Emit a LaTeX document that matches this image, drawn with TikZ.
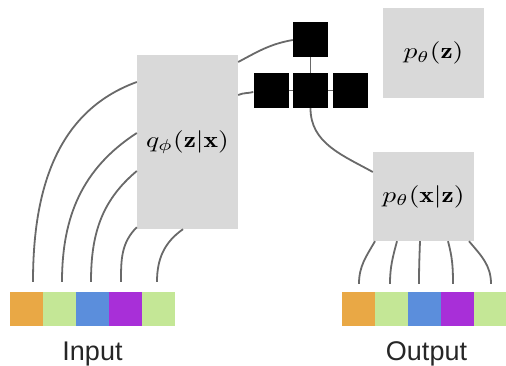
\documentclass[tikz,border=0pt]{standalone}
\usepackage{amsmath}
\usepackage{graphicx}
\usepackage{fontspec}
\setsansfont{Liberation Sans}
\definecolor{cOrange}{HTML}{E9A845}
\definecolor{cGreen}{HTML}{C4E796}
\definecolor{cBlue}{HTML}{5B8EDC}
\definecolor{cPurple}{HTML}{A82FD8}
\definecolor{boxgray}{HTML}{D9D9D9}
\definecolor{wire}{HTML}{696969}
\newcommand{\distlabel}[1]{\scalebox{2.75}[2.25]{$#1$}}
\begin{document}
\begin{tikzpicture}[x=1pt,y=1pt,
  cell/.style={minimum width=33pt,minimum height=34pt,inner sep=0pt,draw=none},
  dist/.style={fill=boxgray,inner sep=0pt},
  latent/.style={fill=black,minimum size=35pt,inner sep=0pt},
  wireline/.style={draw=wire,line width=1.8pt},
  caption/.style={font=\sffamily\fontsize{27}{30}\selectfont,text=black!85,anchor=base,inner sep=0pt}]
\useasboundingbox (0,0) rectangle (506,365);

% input vector
\foreach \i/\c in {1/cOrange,2/cGreen,3/cBlue,4/cPurple,5/cGreen}
  \node[cell,fill=\c] (in\i) at ({10+33*(\i-1)+16.5},56) {};
% output vector
\foreach \i/\c in {1/cOrange,2/cGreen,3/cBlue,4/cPurple,5/cGreen}
  \node[cell,fill=\c] (out\i) at ({342+33*(\i-1)+16.5},56) {};

\node[caption] (inlab) at (92.5,5) {Input};
\node[caption] (outlab) at (426.5,5) {Output};

% encoder / decoder / prior boxes
\node[dist,minimum width=101pt,minimum height=174pt] (q) at (187.5,223) {\distlabel{q_\phi(\mathbf{z}|\mathbf{x})}};
\node[dist,minimum width=101pt,minimum height=89pt] (pxz) at (423.5,168.5) {\distlabel{p_\theta(\mathbf{x}|\mathbf{z})}};
\node[dist,minimum width=101pt,minimum height=90pt] (pz) at (433.5,312) {\distlabel{p_\theta(\mathbf{z})}};

% latent units
\node[latent] (ztop) at (310.5,325.5) {};
\node[latent] (zl) at (271,274.5) {};
\node[latent] (zm) at (310.5,274.5) {};
\node[latent] (zr) at (350.5,274.5) {};

% input wires into the encoder
\draw[wireline] ([xshift=6.5pt,yshift=10pt]in1.north) to[out=90,in=200] ([yshift=60pt]q.west);
\draw[wireline] ([xshift=2.5pt,yshift=10pt]in2.north) to[out=90,in=213] ([yshift=9pt]q.west);
\draw[wireline] ([xshift=-1.5pt,yshift=10pt]in3.north) to[out=90,in=220] ([yshift=-29pt]q.west);
\draw[wireline] ([xshift=-4.5pt,yshift=10pt]in4.north) to[out=90,in=225] ([yshift=2pt]q.south west);
\draw[wireline] ([xshift=-1.5pt,yshift=10pt]in5.north) to[out=90,in=215] ([xshift=-4.5pt]q.south);

% encoder to latent units
\draw[wireline] ([yshift=80pt]q.east) to[out=28,in=190] ([yshift=-0.5pt]ztop.west);
\draw[wireline] ([yshift=47pt]q.east) to[out=24,in=195] ([yshift=-1.5pt]zl.west);
\draw[wireline] (ztop.south) -- (zm.north);
\draw[wireline] (zl.east) -- (zm.west);
\draw[wireline] (zm.east) -- (zr.west);

% latent to decoder
\draw[wireline] (zm.south) to[out=-90,in=151] ([yshift=24.5pt]pxz.west);

% decoder to output wires
\draw[wireline] ([xshift=-48.5pt]pxz.south) to[out=240,in=90] ([xshift=0.5pt,yshift=8pt]out1.north);
\draw[wireline] ([xshift=-26.5pt]pxz.south) to[out=255,in=90] ([xshift=-1.5pt,yshift=8pt]out2.north);
\draw[wireline] ([xshift=-3.5pt]pxz.south) to[out=268,in=90] ([xshift=-5.5pt,yshift=8pt]out3.north);
\draw[wireline] ([xshift=24.5pt]pxz.south) to[out=285,in=90] ([xshift=-4.5pt,yshift=8pt]out4.north);
\draw[wireline] ([xshift=45.5pt]pxz.south) to[out=310,in=90] ([xshift=0.5pt,yshift=8pt]out5.north);
\end{tikzpicture}
\end{document}
